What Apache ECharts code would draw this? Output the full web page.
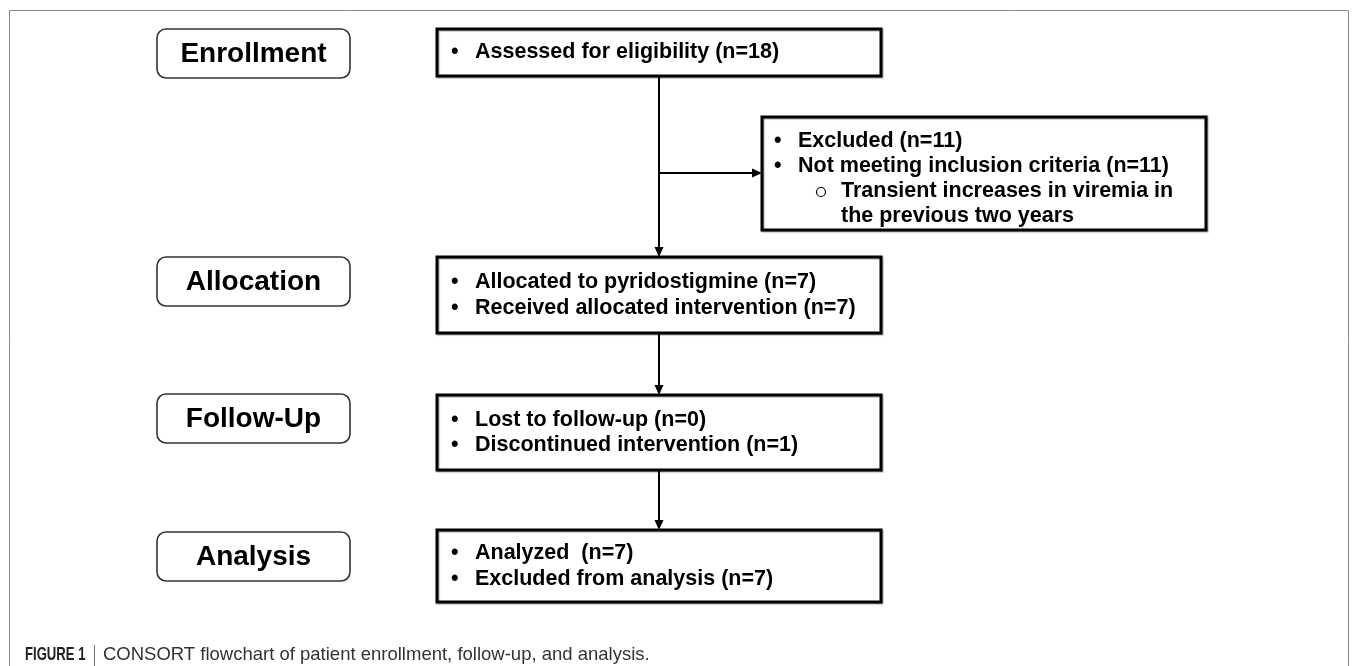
<!DOCTYPE html>
<html>
<head>
<meta charset="utf-8">
<script src="https://cdn.jsdelivr.net/npm/echarts@6/dist/echarts.min.js"></script>
<style>
  html, body { margin: 0; padding: 0; background: #fff; }
  #flow { width: 1357px; height: 666px; }
</style>
</head>
<body>
<div id="flow"></div>
<script>
// stage names on the left and the boxed items of each stage
const stageNames = ['Enrollment', 'Allocation', 'Follow-Up', 'Analysis'];
const stageItems = [
  ['Assessed for eligibility (n=18)'],
  ['Allocated to pyridostigmine (n=7)', 'Received allocated intervention (n=7)'],
  ['Lost to follow-up (n=0)', 'Discontinued intervention (n=1)'],
  ['Analyzed  (n=7)', 'Excluded from analysis (n=7)']
];
const excludedItems = ['Excluded (n=11)', 'Not meeting inclusion criteria (n=11)'];
const excludedReasons = ['Transient increases in viremia in', 'the previous two years'];
const captionBold = 'FIGURE 1';
const captionText = 'CONSORT flowchart of patient enrollment, follow-up, and analysis.';

const FONT = '"Liberation Sans", Arial, sans-serif';

// layout
const leftBox = { x: 157, w: 193, h: 49 };
const leftTops = [29, 257, 394, 532];
const rightBox = { x: 437, w: 444 };
const rightTops = [29, 257, 395, 530];
const rightHeights = [47, 76, 75, 72];
const lineGap = 25.5;
const spineX = 659;
const exBox = { x: 762, y: 117, w: 444, h: 113 };
const branchY = 173;

function txt(text, x, y, opts) {
  return Object.assign({
    type: 'text',
    style: {
      text: text, x: x, y: y,
      font: 'bold 21.5px ' + FONT,
      fill: '#000',
      textAlign: 'left', textVerticalAlign: 'middle',
      align: 'left', verticalAlign: 'middle'
    }
  }, opts || {});
}

function arrowDown(x, y1, y2) {
  return [
    { type: 'line', shape: { x1: x, y1: y1, x2: x, y2: y2 - 8 }, style: { stroke: '#000', lineWidth: 2 } },
    { type: 'polygon', shape: { points: [[x - 4.5, y2 - 10], [x + 4.5, y2 - 10], [x, y2]] }, style: { fill: '#000' } }
  ];
}

const boxStyle = { fill: '#fff', stroke: '#000', lineWidth: 3, shadowColor: 'rgba(0,0,0,0.35)', shadowOffsetX: 1, shadowOffsetY: 1, shadowBlur: 1 };

const els = [];

// outer figure frame
els.push({ type: 'rect', shape: { x: 9.5, y: 10.5, width: 1339, height: 700 },
  style: { fill: 'none', stroke: '#8a8a8a', lineWidth: 1 } });

stageNames.forEach(function (name, i) {
  const top = leftTops[i];
  els.push({ type: 'rect', shape: { x: leftBox.x, y: top, width: leftBox.w, height: leftBox.h, r: 9 },
    style: { fill: '#fff', stroke: '#333', lineWidth: 1.6 } });
  const t = txt(name, leftBox.x + leftBox.w / 2, top + leftBox.h / 2 + 1);
  t.style.font = 'bold 28px ' + FONT;
  t.style.textAlign = t.style.align = 'center';
  els.push(t);

  const rt = rightTops[i], rh = rightHeights[i];
  els.push({ type: 'rect', shape: { x: rightBox.x, y: rt, width: rightBox.w, height: rh }, style: boxStyle });
  const lines = stageItems[i];
  const cy = rt + rh / 2 - (lines.length - 1) * lineGap / 2;
  lines.forEach(function (ln, j) {
    els.push(txt('\u2022', rightBox.x + 14, cy + j * lineGap));
    els.push(txt(ln, rightBox.x + 38, cy + j * lineGap));
  });
});

// main spine with arrows
els.push.apply(els, arrowDown(spineX, rightTops[0] + rightHeights[0], rightTops[1]));
els.push.apply(els, arrowDown(spineX, rightTops[1] + rightHeights[1], rightTops[2]));
els.push.apply(els, arrowDown(spineX, rightTops[2] + rightHeights[2], rightTops[3]));

// branch to exclusion box
els.push({ type: 'line', shape: { x1: spineX, y1: branchY, x2: exBox.x - 8, y2: branchY }, style: { stroke: '#000', lineWidth: 2 } });
els.push({ type: 'polygon', shape: { points: [[exBox.x - 10, branchY - 4.5], [exBox.x - 10, branchY + 4.5], [exBox.x, branchY]] }, style: { fill: '#000' } });

els.push({ type: 'rect', shape: { x: exBox.x, y: exBox.y, width: exBox.w, height: exBox.h }, style: boxStyle });
excludedItems.forEach(function (ln, j) {
  els.push(txt('\u2022', exBox.x + 12, 141 + j * 25));
  els.push(txt(ln, exBox.x + 36, 141 + j * 25));
});
excludedReasons.forEach(function (ln, j) {
  if (j === 0) {
    els.push({ type: 'circle', shape: { cx: exBox.x + 59, cy: 192, r: 4.5 }, style: { fill: 'none', stroke: '#000', lineWidth: 1.2 } });
  }
  els.push(txt(ln, exBox.x + 79, 191 + j * 25));
});

// caption: condensed bold label, thin divider, light text
els.push({
  type: 'text', x: 25, y: 655, scaleX: 0.69,
  style: { text: captionBold, x: 0, y: 0, font: 'bold 19px ' + FONT, fill: '#222',
    textVerticalAlign: 'middle', verticalAlign: 'middle' }
});
els.push({ type: 'line', shape: { x1: 94.5, y1: 645, x2: 94.5, y2: 666 }, style: { stroke: '#777', lineWidth: 1 } });
els.push({
  type: 'text',
  style: { text: captionText, x: 103, y: 655, font: '18.5px ' + FONT, fill: '#333',
    textVerticalAlign: 'middle', verticalAlign: 'middle' }
});

const chart = echarts.init(document.getElementById('flow'));
chart.setOption({
  animation: false,
  graphic: { elements: els }
});
</script>
</body>
</html>
